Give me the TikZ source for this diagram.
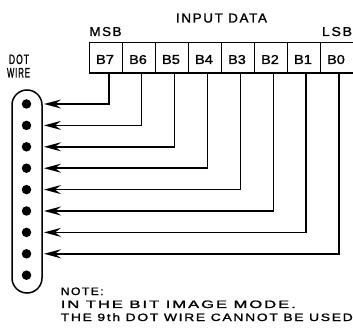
\documentclass[tikz,border=0pt]{standalone}
\usepackage{fontspec}
\setmainfont{Liberation Sans}
\newfontfamily\lsfont[LetterSpace=12,FakeBold=1.3]{Liberation Sans}
\newfontfamily\cfont[FakeBold=1.3]{Liberation Sans}
\usetikzlibrary{arrows.meta,calc}
\newcommand{\fitwh}[3]{\resizebox{#1}{#2}{\lsfont #3}}
\newcommand{\celltxt}[1]{\scalebox{1.12}[1]{\resizebox{!}{9pt}{\cfont #1}}}
\begin{document}
\begin{tikzpicture}[x=1pt,y=-1pt,line width=1.5pt,
  cell/.style={draw,minimum width=33pt,minimum height=30.5pt,inner sep=0pt,anchor=north west},
  clabel/.style={anchor=base,inner sep=0pt},
  lbl/.style={anchor=base,inner sep=0pt},
  note/.style={anchor=base west,inner sep=0pt},
  wire/.style={-{Stealth[length=17pt,width=9pt,inset=6pt]},line width=1.5pt},
  dotw/.style={circle,fill,minimum size=9.5pt,inner sep=0pt}]
\useasboundingbox (0,0) rectangle (353,328);
% titles
\node[lbl] (title) at (221.5,22.5) {\fitwh{91pt}{9pt}{INPUT DATA}};
\node[lbl] (msb) at (105.5,36) {\fitwh{32pt}{9pt}{MSB}};
\node[lbl] (lsb) at (337,36) {\fitwh{30pt}{9pt}{LSB}};
\node[lbl] (dot) at (19,64) {\fitwh{20pt}{9.5pt}{DOT}};
\node[lbl] (wirel) at (18.5,77.5) {\fitwh{23pt}{9.5pt}{WIRE}};
% cells
\foreach \b [count=\i from 0] in {7,6,5,4,3,2,1,0}{
  \node[cell] (c\b) at ({88.5+33*\i},41.7) {};
  \node[clabel] (t\b) at ({105+33*\i},64) {\celltxt{B\b}};
}
% capsule
\draw (12,105) -- (12,278) arc[start angle=180,end angle=0,radius=15] -- (42,105) arc[start angle=0,end angle=-180,radius=15];
% dots
\foreach \k in {1,...,9}{
  \node[dotw] (d\k) at (26.5,{104+21.4*(\k-1)}) {};
}
% arrow ends
\foreach \k in {1,...,8}{
  \coordinate (a\k) at (44,{104+21.4*(\k-1)});
}
% wires
\foreach \b/\k [count=\i from 0] in {7/1,6/2,5/3,4/4,3/5,2/6,1/7,0/8}{
  \draw[wire] ([xshift={3pt-0.1pt*\i}]c\b.south) |- (a\k);
}
% note
\node[note] (n1) at (60,295) {\fitwh{43pt}{7.5pt}{NOTE:}};
\node[note] (n2) at (60,308) {\fitwh{235pt}{7.5pt}{IN THE BIT IMAGE MODE.}};
\node[note] (n3) at (60,321) {\fitwh{292pt}{7.7pt}{THE 9th DOT WIRE CANNOT BE USED}};
\end{tikzpicture}
\end{document}
